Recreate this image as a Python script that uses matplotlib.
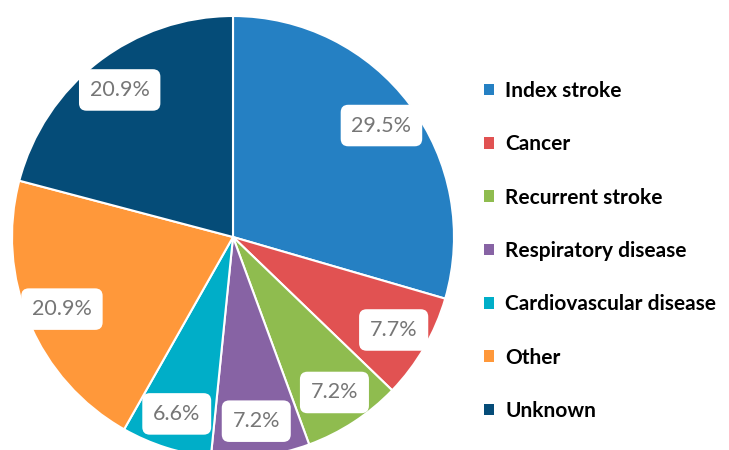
import matplotlib
matplotlib.use("Agg")
import matplotlib.pyplot as plt

# causes of death
causes = ["Index stroke", "Cancer", "Recurrent stroke", "Respiratory disease",
          "Cardiovascular disease", "Other", "Unknown"]
shares = [29.5, 7.7, 7.2, 7.2, 6.6, 20.9, 20.9]
colours = ["#2580C3", "#E15252", "#8FBC4F", "#8763A4", "#00AEC8", "#FF983A", "#054C78"]

plt.rcParams['font.family'] = ['Lato', 'DejaVu Sans']

fig = plt.figure(figsize=(7.29, 4.5), dpi=100)
ax = fig.add_axes([0, 0, 1, 1])

wedges, texts, autotexts = ax.pie(
    shares, colors=colours, startangle=90, counterclock=False,
    center=(233, 213), radius=221, frame=True,
    autopct=lambda p: "%.1f%%" % p, pctdistance=0.84,
    wedgeprops=dict(edgecolor="white", linewidth=1.5))
ax.set_xlim(0, 729)
ax.set_ylim(0, 450)
ax.set_aspect("equal")
ax.axis("off")

for t in autotexts:
    t.set_color("#767676")
    t.set_fontsize(15.5)
    t.set_bbox(dict(boxstyle="round,pad=0.5,rounding_size=0.35",
                    facecolor="white", edgecolor="none"))

leg = ax.legend(wedges, causes, loc="upper left", bbox_to_anchor=(0.638, 0.862),
                frameon=False, handlelength=0.47, handleheight=0.47,
                handletextpad=0.55, labelspacing=1.6,
                prop=dict(family="Lato", weight="bold", size=15))
for h in leg.legend_handles:
    h.set_edgecolor("none")

fig.savefig("out.png", dpi=100)
